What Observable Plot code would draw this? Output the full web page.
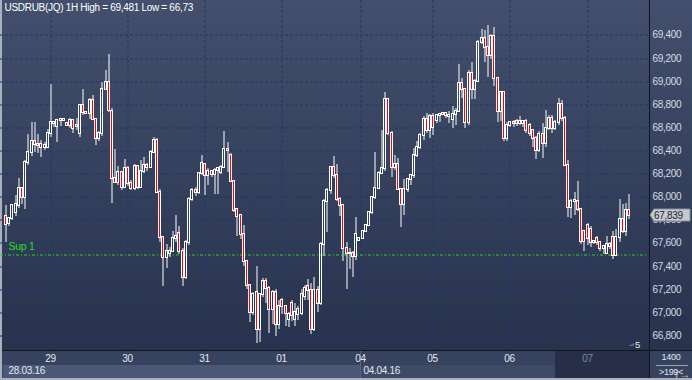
<!DOCTYPE html>
<html><head><meta charset="utf-8">
<script src="https://cdn.jsdelivr.net/npm/d3@7"></script>
<script src="https://cdn.jsdelivr.net/npm/@observablehq/plot@0.6"></script>
<style>
html,body{margin:0;padding:0;background:#2f3a55;}
#chart{width:692px;height:380px;overflow:hidden;}
svg{display:block;}
svg text{letter-spacing:-0.3px;}
</style></head><body><div id="chart"></div>
<script>
const open = [67.83,67.77,67.81,67.86,67.92,68.07,67.99,68.30,68.38,68.48,
68.44,68.45,68.43,68.43,68.55,68.64,68.61,68.66,68.67,68.63,
68.62,68.66,68.61,68.55,68.79,68.73,68.72,68.83,68.67,68.50,
68.55,68.93,68.99,68.74,68.16,68.12,68.21,68.08,68.24,68.11,
68.07,68.26,68.08,68.22,68.27,68.25,68.38,68.49,68.04,67.65,
67.47,67.51,67.53,67.64,67.68,67.53,67.30,67.60,67.98,68.05,
68.04,68.20,68.28,68.18,68.22,68.19,68.23,68.21,68.25,68.41,
68.36,68.13,67.89,67.84,67.67,67.44,67.23,67.00,67.17,66.85,
67.15,67.27,67.21,67.02,67.17,66.89,67.10,67.05,66.94,67.08,
66.94,66.98,66.99,67.14,67.22,67.19,66.85,67.19,67.08,67.59,
67.96,68.05,68.25,68.18,67.98,67.92,67.55,67.51,67.51,67.48,
67.62,67.64,67.70,67.75,67.86,67.99,68.07,68.20,68.24,68.84,
68.55,68.25,68.28,68.06,67.93,68.06,68.15,68.18,68.36,68.43,
68.53,68.67,68.57,68.69,68.66,68.70,68.71,68.72,68.69,68.67,
68.71,68.74,68.98,68.93,68.64,69.07,68.93,69.00,69.33,69.37,
69.29,69.22,69.39,69.02,68.74,68.90,68.50,68.62,68.64,68.63,
68.65,68.63,68.65,68.62,68.57,68.50,68.40,68.54,68.46,68.59,
68.68,68.59,68.64,68.80,68.68,68.27,67.91,67.96,67.96,67.89,
67.70,67.75,67.72,67.60,67.64,67.60,67.55,67.51,67.59,67.65,
67.49,67.65,67.80,67.70,67.88];
const high = [67.92,67.82,67.93,68.01,68.16,68.08,68.31,68.54,68.64,68.64,
68.54,68.49,68.47,68.58,68.97,68.65,68.67,68.67,68.67,68.63,
68.68,68.67,68.68,68.80,68.93,68.74,68.85,68.88,68.68,68.56,
68.99,69.09,69.23,68.76,68.41,68.26,68.22,68.32,68.26,68.14,
68.28,68.27,68.31,68.34,68.29,68.40,68.51,68.50,68.06,67.66,
67.59,67.56,67.70,67.84,67.74,67.55,67.62,67.99,68.07,68.08,
68.21,68.36,68.29,68.24,68.23,68.24,68.25,68.27,68.56,68.47,
68.37,68.14,67.90,67.85,67.75,67.45,67.24,67.17,67.40,67.16,
67.29,67.29,67.22,67.19,67.20,67.10,67.12,67.06,67.00,67.10,
67.08,67.05,67.20,67.23,67.28,67.25,67.30,67.22,67.60,67.98,
68.07,68.26,68.35,68.28,67.99,67.93,67.60,67.55,67.53,67.82,
67.65,67.71,67.76,67.87,68.00,68.38,68.22,68.57,68.90,68.85,
68.56,68.36,68.33,68.07,68.15,68.16,68.19,68.42,68.48,68.55,
68.69,68.72,68.71,68.72,68.71,68.72,68.73,68.73,68.74,68.78,
68.76,69.14,69.02,68.94,69.09,69.16,69.01,69.35,69.45,69.44,
69.481,69.40,69.46,69.03,68.91,68.91,68.64,68.65,68.66,68.67,
68.69,68.66,68.67,68.63,68.58,68.52,68.56,68.63,68.75,68.70,
68.70,68.66,68.85,68.83,68.69,68.31,67.98,68.04,68.13,67.90,
67.71,67.77,67.74,67.62,67.66,67.61,67.58,67.66,67.60,67.70,
67.72,67.98,67.93,67.94,68.02];
const low = [67.60,67.74,67.79,67.83,67.90,67.93,67.89,68.27,68.35,68.38,
68.37,68.34,68.40,68.43,68.51,68.60,68.47,68.61,68.65,68.61,
68.59,68.55,68.57,68.51,68.70,68.71,68.67,68.66,68.44,68.48,
68.52,68.92,68.73,67.94,68.11,68.10,68.05,68.07,68.09,68.05,
68.05,68.06,68.07,68.20,68.22,68.24,68.37,68.03,67.60,67.22,
67.38,67.47,67.52,67.60,67.50,67.22,67.28,67.58,67.96,68.00,
68.02,68.18,68.01,68.10,68.17,68.02,68.02,68.19,68.24,68.21,
68.12,67.86,67.66,67.63,67.40,67.20,66.91,66.97,66.73,66.74,
67.13,67.08,66.82,66.89,66.79,66.85,66.98,66.88,66.87,66.92,
66.88,66.93,66.97,67.10,67.10,66.81,66.83,67.00,67.06,67.48,
67.69,68.02,68.16,67.96,67.83,67.44,67.20,67.37,67.30,67.45,
67.61,67.63,67.69,67.74,67.85,67.98,68.06,68.19,68.22,68.53,
68.17,68.23,68.05,67.73,67.84,68.04,68.10,68.16,68.34,68.41,
68.49,68.55,68.50,68.53,68.63,68.64,68.70,68.68,68.63,68.59,
68.62,68.73,68.85,68.59,68.62,68.84,68.84,68.99,69.32,69.16,
69.03,69.19,68.95,68.64,68.65,68.48,68.48,68.60,68.60,68.61,
68.62,68.60,68.55,68.52,68.43,68.32,68.38,68.33,68.43,68.57,
68.55,68.57,68.62,68.65,68.26,67.82,67.81,67.84,67.87,67.59,
67.53,67.58,67.56,67.59,67.58,67.53,67.50,67.50,67.54,67.46,
67.48,67.60,67.68,67.66,67.80];
const close = [67.76,67.81,67.92,67.93,68.07,67.99,68.30,68.38,68.48,68.45,
68.45,68.43,68.44,68.55,68.64,68.63,68.66,68.67,68.66,68.62,
68.66,68.59,68.62,68.79,68.73,68.72,68.83,68.67,68.50,68.55,
68.93,68.99,68.75,68.16,68.12,68.21,68.08,68.24,68.11,68.07,
68.26,68.08,68.22,68.27,68.25,68.38,68.49,68.04,67.65,67.47,
67.53,67.53,67.64,67.66,67.53,67.30,67.60,67.98,68.05,68.04,
68.20,68.29,68.18,68.22,68.19,68.23,68.24,68.25,68.41,68.40,
68.13,67.88,67.83,67.67,67.44,67.23,67.00,67.15,66.85,67.15,
67.27,67.21,67.02,67.17,66.89,67.05,67.05,66.99,66.98,66.97,
67.00,67.02,67.15,67.21,67.19,66.85,67.19,67.08,67.59,67.96,
68.05,68.25,68.18,67.98,67.92,67.55,67.51,67.51,67.48,67.67,
67.64,67.70,67.75,67.86,67.99,68.07,68.20,68.24,68.84,68.55,
68.25,68.28,68.06,67.93,68.06,68.15,68.18,68.36,68.43,68.53,
68.67,68.57,68.69,68.60,68.70,68.71,68.72,68.70,68.70,68.71,
68.74,68.98,68.93,68.64,69.07,68.93,69.00,69.33,69.37,69.29,
69.22,69.39,69.02,68.74,68.90,68.50,68.62,68.64,68.63,68.65,
68.63,68.65,68.57,68.55,68.50,68.40,68.54,68.46,68.59,68.68,
68.59,68.64,68.80,68.68,68.27,67.91,67.96,67.97,67.89,67.61,
67.61,67.64,67.60,67.61,67.60,67.55,67.57,67.59,67.57,67.49,
67.65,67.80,67.70,67.88,67.839];

const dayTicks = [14, 38, 62, 86, 110.6, 133, 157, 181];
const dayLabels = ["29", "30", "31", "01", "04", "05", "06", "07"];
const weekTicks = [0, 110.6];
const weekLabels = ["28.03.16", "04.04.16"];
const yTicks = [66.8, 67.0, 67.2, 67.4, 67.6, 67.8, 68.0, 68.2, 68.4, 68.6, 68.8, 69.0, 69.2, 69.4];
const supLevel = 67.50;
const supLabel = "Sup 1";
const titleText = "USDRUB(JQ) 1H High = 69,481 Low = 66,73";
const lastPrice = 67.839;
const cornerLabel = "5";
const boxTop = "1400";
const boxBottom = ">199<";

const bars = open.map((o, i) => ({
  i, o, h: high[i], l: low[i], c: close[i],
  top: Math.max(o, close[i]), bot: Math.min(o, close[i]), down: close[i] < o
}));
const downBars = bars.filter(d => d.down);
const upBars = bars.filter(d => !d.down);
const dayLabelOf = new Map(dayTicks.map((t, k) => [t, dayLabels[k]]));
const weekLabelOf = new Map(weekTicks.map((t, k) => [t, weekLabels[k]]));
const fmt = v => v.toFixed(3).replace(".", ",");
const gridColor = "#1b3a70";
const FONT = "'Liberation Sans', Arial, sans-serif";

const plot = Plot.plot({
  width: 692, height: 380,
  marginLeft: 0, marginRight: 44, marginTop: 0, marginBottom: 30,
  style: {background: "transparent", color: "#dfe3ea", fontFamily: FONT, fontSize: "10px", overflow: "visible"},
  x: {domain: [0, 194], range: [5, 628.3], round: true, axis: null},
  y: {domain: [66.8, 69.4], range: [334.9, 34.4], round: true, axis: null},
  marks: [
    Plot.gridY(yTicks, {stroke: gridColor, strokeOpacity: 1, strokeDasharray: "3,2", dy: 0.5}),
    Plot.ruleX(dayTicks, {stroke: gridColor, strokeOpacity: 1, strokeDasharray: "3,2", dx: 0.5}),
    Plot.ruleY([supLevel], {stroke: "#2ccf2c", strokeDasharray: "3,2,1,2", dy: 0.5}),
    Plot.text([supLevel], {y: d => d, text: () => supLabel, frameAnchor: "left", dx: 8, dy: -8,
      textAnchor: "start", fill: "#1fe01f", fontSize: 10.5}),
    Plot.ruleX(bars, {x: "i", y1: "h", y2: "top", stroke: "white", strokeWidth: 1, dx: 0.5}),
    Plot.ruleX(bars, {x: "i", y1: "bot", y2: "l", stroke: "white", strokeWidth: 1, dx: 0.5}),
    Plot.rect(upBars, {x1: "i", x2: "i", y1: "bot", y2: "top",
      insetLeft: -0.5, insetRight: -1.5, insetTop: -0.5, insetBottom: -0.5,
      fill: "none", stroke: "white", strokeWidth: 1}),
    Plot.rect(downBars, {x1: "i", x2: "i", y1: "bot", y2: "top",
      insetLeft: -0.5, insetRight: -1.5, insetTop: -0.5, insetBottom: -0.5,
      fill: "#ff0000", stroke: "white", strokeWidth: 1}),
    Plot.text([titleText], {frameAnchor: "top-left", text: d => d, dx: 4, dy: 3, lineAnchor: "top",
      textAnchor: "start", fill: "#ffffff", fontSize: 10}),
    Plot.axisY(yTicks, {anchor: "right", tickSize: 0, tickPadding: 4, tickFormat: fmt, fill: "#d6dbe4", fontSize: 10}),
    Plot.axisX(dayTicks.slice(0, 7), {anchor: "bottom", tickSize: 0, tickPadding: 4,
      tickFormat: d => dayLabelOf.get(d), fill: "#e4e8ef", fontSize: 10}),
    Plot.axisX([dayTicks[7]], {anchor: "bottom", tickSize: 0, tickPadding: 4,
      tickFormat: d => dayLabelOf.get(d), fill: "#7d889e", fontSize: 10}),
    Plot.text(weekTicks, {x: d => d, frameAnchor: "bottom", text: d => weekLabelOf.get(d),
      dx: 3, dy: 16, lineAnchor: "top", textAnchor: "start", fill: "#e4e8ef", fontSize: 10})
  ]
});

// chrome (background panels) inserted behind the marks
const svg = d3.select(plot);
const bg = d3.create("svg:g");
const defs = bg.append("defs");
const grad = defs.append("linearGradient").attr("id", "bgGrad").attr("x1", 0).attr("y1", 0).attr("x2", 0).attr("y2", 1);
grad.append("stop").attr("offset", "0%").attr("stop-color", "#434f6c");
grad.append("stop").attr("offset", "100%").attr("stop-color", "#28324d");
bg.append("rect").attr("x", 0).attr("y", 0).attr("width", 692).attr("height", 351).attr("fill", "url(#bgGrad)");
bg.append("rect").attr("x", 0).attr("y", 351).attr("width", 692).attr("height", 29).attr("fill", "#36425e");
bg.append("rect").attr("x", 3).attr("y", 365).attr("width", 358).attr("height", 13).attr("fill", "#4b5977");
bg.append("rect").attr("x", 361).attr("y", 365).attr("width", 194).attr("height", 13).attr("fill", "#3e4b67");
bg.append("rect").attr("x", 555).attr("y", 351).attr("width", 94).attr("height", 27).attr("fill", "#262f47");
bg.append("line").attr("x1", 360.5).attr("x2", 360.5).attr("y1", 351).attr("y2", 378).attr("stroke", "#56657f");
bg.append("line").attr("x1", 0).attr("x2", 692).attr("y1", 350.5).attr("y2", 350.5).attr("stroke", "#0f1420");
bg.append("line").attr("x1", 649.5).attr("x2", 649.5).attr("y1", 0).attr("y2", 380).attr("stroke", "#0f1420");
bg.append("rect").attr("x", 0).attr("y", 0).attr("width", 2).attr("height", 380).attr("fill", "#a9b1be");
bg.append("rect").attr("x", 0).attr("y", 378).attr("width", 692).attr("height", 2).attr("fill", "#a9b1be");
plot.insertBefore(bg.node(), plot.firstChild);

// overlay texts: right-bottom box, corner label, price tag
const fg = svg.append("g").attr("font-family", FONT).attr("font-size", 9).attr("text-anchor", "start");
fg.append("text").attr("x", 671).attr("y", 360).attr("text-anchor", "middle").attr("fill", "#e4e8ef").text(boxTop);
fg.append("line").attr("x1", 656).attr("x2", 688).attr("y1", 365.5).attr("y2", 365.5).attr("stroke", "#9aa3b3");
fg.append("text").attr("x", 671).attr("y", 375).attr("text-anchor", "middle").attr("fill", "#e4e8ef").text(boxBottom);
fg.append("path").attr("d", "M628,346 L634,343 L634,346 Z").attr("fill", "#5d6880");
fg.append("text").attr("x", 635).attr("y", 348).attr("text-anchor", "start").attr("font-size", 9.5).attr("fill", "#e4e8ef").text(cornerLabel);
const yp = plot.scale("y").apply(lastPrice);
fg.append("path").attr("d", `M650,${yp} L654,${yp - 6} L690,${yp - 6} L690,${yp + 6} L654,${yp + 6} Z`)
  .attr("fill", "#c5c9d0").attr("stroke", "#8b919b");
fg.append("text").attr("x", 654).attr("y", yp + 3.5).attr("text-anchor", "start").attr("font-size", 10)
  .attr("fill", "#1f2430").text(fmt(lastPrice));

document.getElementById("chart").append(plot);
</script>
</body></html>
